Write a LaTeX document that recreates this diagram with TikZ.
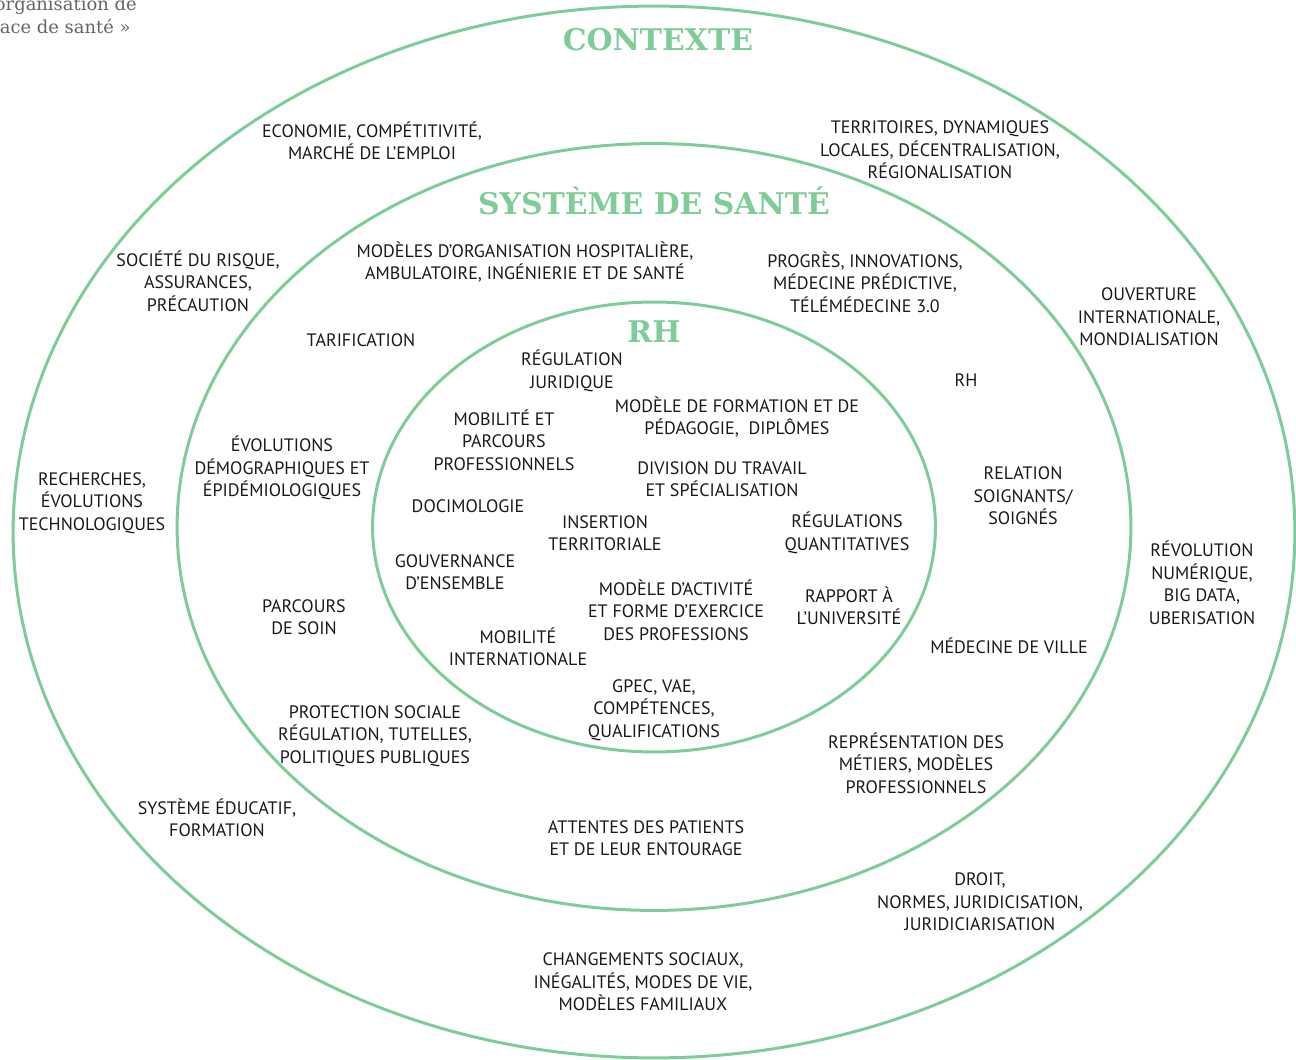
\documentclass[tikz,border=0pt]{standalone}
\usepackage{fontspec}
\setmainfont{PT Sans}
\newfontfamily\titlefont{DejaVu Serif}
\newfontfamily\capfont{DejaVu Serif}
\definecolor{ringgreen}{RGB}{126,204,152}
\definecolor{inkgray}{RGB}{25,25,25}
\definecolor{capgray}{RGB}{100,100,100}

\begin{document}
\begin{tikzpicture}[x=0.02cm, y=-0.02cm,
	ring/.style={draw=ringgreen, line width=1.7pt},
	ttl/.style={text=ringgreen, inner sep=0pt, font=\titlefont\bfseries\fontsize{17}{20}\selectfont},
	lbl/.style={text=inkgray, align=center, inner sep=0pt, font=\fontsize{10.25}{12.8}\selectfont},
	captxt/.style={text=capgray, anchor=base east, inner sep=0pt, font=\capfont\fontsize{10.2}{13}\selectfont}]
	\useasboundingbox (0,0) rectangle (1296,1060);
	\clip (0,0) rectangle (1296,1060);

	% Caption cut at the page edge
	\node[captxt] (cap1) at (137,11) {organisation de};
	\node[captxt] (cap2) at (131,34) {ace de santé »};

	% The three rings
	\draw[ring] (654,532) ellipse [x radius=12.82cm, y radius=10.52cm];
	\draw[ring] (654,527) ellipse [x radius=9.54cm, y radius=7.67cm];
	\draw[ring] (654,527) ellipse [x radius=5.63cm, y radius=4.50cm];

	% Outer ring: context
	\node[ttl] (ctx) at (658,40) {CONTEXTE};
	\node[lbl] (eco) at (372,141) {ECONOMIE, COMPÉTITIVITÉ,\\MARCHÉ DE L’EMPLOI};
	\node[lbl] (terr) at (940,150) {TERRITOIRES, DYNAMIQUES\\LOCALES, DÉCENTRALISATION,\\RÉGIONALISATION};
	\node[lbl] (risk) at (198,281) {SOCIÉTÉ DU RISQUE,\\ASSURANCES,\\PRÉCAUTION};
	\node[lbl] (intl) at (1149,317) {OUVERTURE\\INTERNATIONALE,\\MONDIALISATION};
	\node[lbl] (rech) at (92,503) {RECHERCHES,\\ÉVOLUTIONS\\TECHNOLOGIQUES};
	\node[lbl] (num) at (1202,583) {RÉVOLUTION\\NUMÉRIQUE,\\BIG DATA,\\UBERISATION};
	\node[lbl] (educ) at (217,818) {SYSTÈME ÉDUCATIF,\\FORMATION};
	\node[lbl] (droit) at (980,902) {DROIT,\\NORMES, JURIDICISATION,\\JURIDICIARISATION};
	\node[lbl] (soc) at (643,982) {CHANGEMENTS SOCIAUX,\\INÉGALITÉS, MODES DE VIE,\\MODÈLES FAMILIAUX};

	% Middle ring: health system
	\node[ttl] (sys) at (654,201) {SYSTÈME DE SANTÉ};
	\node[lbl] (orga) at (525,262) {MODÈLES D’ORGANISATION HOSPITALIÈRE,\\AMBULATOIRE, INGÉNIERIE ET DE SANTÉ};
	\node[lbl] (prog) at (865,282) {PROGRÈS, INNOVATIONS,\\MÉDECINE PRÉDICTIVE,\\TÉLÉMÉDECINE 3.0};
	\node[lbl] (tarif) at (361,340) {TARIFICATION};
	\node[lbl] (rhs) at (966,380) {RH};
	\node[lbl] (demo) at (282,468) {ÉVOLUTIONS\\DÉMOGRAPHIQUES ET\\ÉPIDÉMIOLOGIQUES};
	\node[lbl] (rel) at (1023,496) {RELATION\\SOIGNANTS/\\SOIGNÉS};
	\node[lbl] (parc) at (304,617) {PARCOURS\\DE SOIN};
	\node[lbl] (ville) at (1009,646) {MÉDECINE DE VILLE};
	\node[lbl] (prot) at (375,736) {PROTECTION SOCIALE\\RÉGULATION, TUTELLES,\\POLITIQUES PUBLIQUES};
	\node[lbl] (repr) at (916,763) {REPRÉSENTATION DES\\MÉTIERS, MODÈLES\\PROFESSIONNELS};
	\node[lbl] (att) at (646,838) {ATTENTES DES PATIENTS\\ET DE LEUR ENTOURAGE};

	% Inner ring: human resources
	\node[ttl] (rh) at (654,332) {RH};
	\node[lbl] (regj) at (572,371) {RÉGULATION\\JURIDIQUE};
	\node[lbl] (form) at (737,417) {MODÈLE DE FORMATION ET DE\\PÉDAGOGIE,\ \ DIPLÔMES};
	\node[lbl] (mobp) at (504,440) {MOBILITÉ ET\\PARCOURS\\PROFESSIONNELS};
	\node[lbl] (div) at (722,479) {DIVISION DU TRAVAIL\\ET SPÉCIALISATION};
	\node[lbl] (doci) at (468,506) {DOCIMOLOGIE};
	\node[lbl] (ins) at (605,533) {INSERTION\\TERRITORIALE};
	\node[lbl] (regq) at (847,533) {RÉGULATIONS\\QUANTITATIVES};
	\node[lbl] (gouv) at (455,572) {GOUVERNANCE\\D’ENSEMBLE};
	\node[lbl] (act) at (676,610) {MODÈLE D’ACTIVITÉ\\ET FORME D’EXERCICE\\DES PROFESSIONS};
	\node[lbl] (univ) at (849,606) {RAPPORT À\\L’UNIVERSITÉ};
	\node[lbl] (mobi) at (518,647) {MOBILITÉ\\INTERNATIONALE};
	\node[lbl] (gpec) at (654,710) {GPEC, VAE,\\COMPÉTENCES,\\QUALIFICATIONS};
\end{tikzpicture}
\end{document}
